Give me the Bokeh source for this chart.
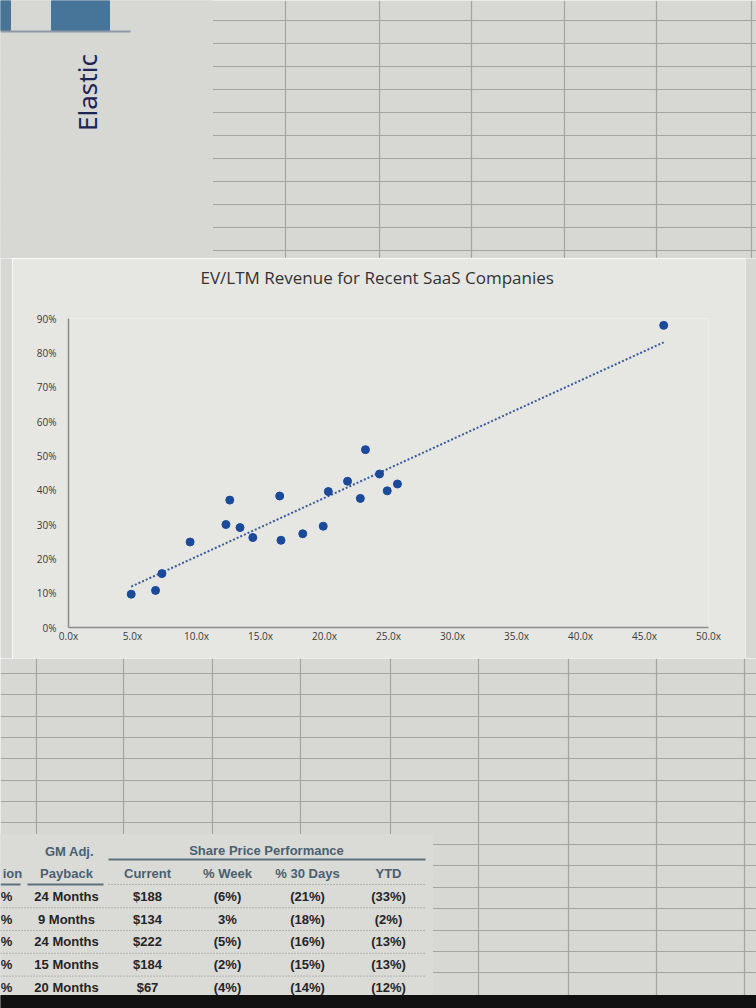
import numpy as np
from bokeh.plotting import figure
from bokeh.models import (Range1d, FixedTicker, NumeralTickFormatter, PrintfTickFormatter, Title)
from bokeh.layouts import column, row
from bokeh.embed import file_html
from bokeh.resources import INLINE
from bokeh.core.properties import value

# ---------------- chart data ----------------
ev_ltm_multiple = [4.9, 6.8, 7.3, 9.5, 12.3, 12.6, 13.4, 14.4, 16.5, 16.6,
                   18.3, 19.9, 20.3, 21.8, 22.8, 23.2, 24.3, 24.9, 25.7, 46.5]
revenue_growth = [0.097, 0.108, 0.157, 0.249, 0.300, 0.371, 0.291, 0.262, 0.383, 0.254,
                  0.273, 0.295, 0.396, 0.426, 0.376, 0.518, 0.447, 0.398, 0.418, 0.880]
x_ticks = [0, 5, 10, 15, 20, 25, 30, 35, 40, 45, 50]
y_ticks = [0.0, 0.1, 0.2, 0.3, 0.4, 0.5, 0.6, 0.7, 0.8, 0.9]
chart_title = "EV/LTM Revenue for Recent SaaS Companies"
sheet_label = "Elastic"

# ---------------- table data ----------------
group_header_left = "GM Adj."
group_header_right = "Share Price Performance"
table_headers = ["ion", "Payback", "Current", "% Week", "% 30 Days", "YTD"]
col_cut = ["%", "%", "%", "%", "%"]
payback = ["24 Months", "9 Months", "24 Months", "15 Months", "20 Months"]
current = ["$188", "$134", "$222", "$184", "$67"]
pct_week = ["(6%)", "3%", "(5%)", "(2%)", "(4%)"]
pct_30_days = ["(21%)", "(18%)", "(16%)", "(15%)", "(14%)"]
ytd = ["(33%)", "(2%)", "(13%)", "(13%)", "(12%)"]

# ---------------- styles ----------------
SHEET = "#d7d7d4"
CHART_BG = "#e6e6e3"
GRID = "#a4a4a1"
DOT = "#1b4a9b"
FONT = "Open Sans"


def blank(width, height, xr, yr):
    f = figure(width=width, height=height, x_range=xr, y_range=yr,
               output_backend="svg", toolbar_location=None, min_border=0)
    f.frame_align = False
    f.axis.visible = False
    f.background_fill_color = SHEET
    f.border_fill_color = SHEET
    f.outline_line_color = None
    f.grid.grid_line_color = None
    return f


# ================= top: spreadsheet area =================
top = blank(756, 258, Range1d(0, 756), Range1d(258, 0))
top.xgrid.ticker = FixedTicker(ticks=[285, 379, 471, 564, 656, 751])
top.ygrid.ticker = FixedTicker(ticks=[20, 43, 66, 89, 112, 135, 158, 181, 204, 227, 250])
top.grid.grid_line_color = GRID
top.grid.grid_line_width = 1.2
top.quad(left=[0], right=[212], top=[0], bottom=[258], color=SHEET)
top.quad(left=[0, 51], right=[10, 109], top=[0, 0], bottom=[30, 30], color="#47759a")
top.segment(x0=[0], x1=[130], y0=[31], y1=[31], line_color="#8d9aa6", line_width=2)
top.text(x=[86], y=[92], text=[sheet_label], angle=np.pi / 2, text_align="center",
         text_baseline="middle", text_font=value("Noto Sans"), text_font_size="26px",
         text_color="#1d2556")

# ================= middle: the chart =================
p = figure(width=733, height=400, x_range=Range1d(0, 50), y_range=Range1d(0, 0.9),
           output_backend="svg", toolbar_location=None, title=None,
           min_border_left=56, min_border_right=37, min_border_top=0, min_border_bottom=31)
p.frame_align = False
p.background_fill_color = CHART_BG
p.border_fill_color = CHART_BG
p.outline_line_color = None
p.grid.grid_line_color = None
p.styles = {"outline": "2px solid #8f8f8c", "outline-offset": "-3px"}

gap_title = Title(text=" ", text_font=FONT, text_font_size="10px", standoff=9)
p.add_layout(gap_title, "above")
main_title = Title(text=chart_title, text_font=FONT, text_font_size="17px",
                   text_font_style="normal", text_color="#333333",
                   align="left", offset=132, standoff=10)
p.add_layout(main_title, "above")

p.xaxis.ticker = FixedTicker(ticks=x_ticks)
p.xaxis.formatter = PrintfTickFormatter(format="%.1fx")
p.yaxis.ticker = FixedTicker(ticks=y_ticks)
p.yaxis.formatter = NumeralTickFormatter(format="0%")
for ax in (p.xaxis, p.yaxis):
    ax.major_tick_line_color = None
    ax.minor_tick_line_color = None
    ax.major_tick_out = 0
    ax.major_tick_in = 0
    ax.minor_tick_out = 0
    ax.axis_line_color = "#8c8c8a"
    ax.axis_line_width = 1.5
    ax.major_label_text_font = FONT
    ax.major_label_text_font_size = "10px"
    ax.major_label_text_color = "#3a3a3a"
p.xaxis.major_label_standoff = 1
p.yaxis.major_label_standoff = 12

slope, intercept = np.polyfit(ev_ltm_multiple, revenue_growth, 1)
trend_x = [min(ev_ltm_multiple), max(ev_ltm_multiple)]
trend_y = [slope * v + intercept for v in trend_x]
p.line(trend_x, trend_y, line_color="#3a5a9c", line_width=2, line_dash="2 2")
p.scatter(ev_ltm_multiple, revenue_growth, size=8, color=DOT)

left_strip = blank(12, 400, Range1d(0, 1), Range1d(0, 1))
right_strip = blank(11, 400, Range1d(0, 1), Range1d(0, 1))
middle = row(left_strip, p, right_strip, spacing=0)

# ================= bottom: spreadsheet + table =================
bot = blank(756, 350, Range1d(0, 756), Range1d(1008, 658))
bot.xgrid.ticker = FixedTicker(ticks=[36, 123, 212, 300, 390, 478, 568, 656, 744])
bot.ygrid.ticker = FixedTicker(ticks=[673, 694, 716, 737, 758, 780, 801, 822,
                                      844, 865, 887, 908, 930, 951, 972])
bot.grid.grid_line_color = GRID
bot.grid.grid_line_width = 1.2
bot.quad(left=[0], right=[432], top=[834], bottom=[1000], color="#dadad7")
bot.quad(left=[0], right=[756], top=[995], bottom=[1008], color="#111111")

HEAD = "#4a5f70"
BODY = "#252525"
tfont = value("Liberation Sans")
col_x = [6, 66, 147, 227, 307, 388]
header_y = 873
row_step = 22.8
row_y = [header_y + row_step * (i + 1) for i in range(len(payback))]

bot.text(x=[69, 266], y=[851, 850], text=[group_header_left, group_header_right],
         text_align="center", text_baseline="middle", text_font=tfont,
         text_font_style="bold", text_font_size="13px", text_color=HEAD)
bot.segment(x0=[108], x1=[425], y0=[859], y1=[859], line_color="#5d717e", line_width=2)
bot.text(x=[12] + col_x[1:], y=[header_y] * len(col_x), text=table_headers,
         text_align="center", text_baseline="middle", text_font=tfont,
         text_font_style="bold", text_font_size="13px", text_color=HEAD)
bot.segment(x0=[0, 27], x1=[20, 103], y0=[884, 884], y1=[884, 884],
            line_color="#5d717e", line_width=2)
sep_y = [ry + row_step / 2 for ry in row_y[:-1]]
bot.segment(x0=[108] + [0] * len(sep_y), x1=[425] * (1 + len(sep_y)),
            y0=[884] + sep_y, y1=[884] + sep_y,
            line_color="#8a8a88", line_width=1, line_dash="1 2")
for cx, vals in zip(col_x, [col_cut, payback, current, pct_week, pct_30_days, ytd]):
    bot.text(x=[cx] * len(vals), y=row_y, text=vals, text_align="center",
             text_baseline="middle", text_font=tfont, text_font_style="bold",
             text_font_size="13px", text_color=BODY)

page = column(top, middle, bot, spacing=0)
open("out.html", "w").write(file_html(page, INLINE))
